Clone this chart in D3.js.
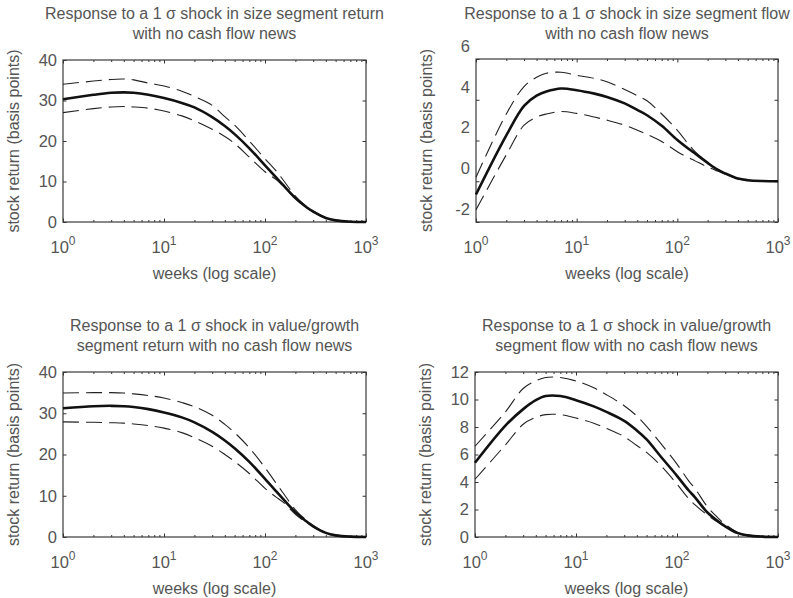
<!DOCTYPE html>
<html>
<head>
<meta charset="utf-8">
<script src="https://cdn.jsdelivr.net/npm/d3@7"></script>
<style>
  body { margin: 0; background: #fff; }
  text { font-family: "Liberation Sans", Arial, sans-serif; fill: #555; }
</style>
</head>
<body>
<svg id="chart" width="793" height="598"></svg>
<script>
// Horizon in weeks (log axis)
const weeks = [1, 2, 3, 4, 5, 7, 10, 15, 20, 30, 40, 50, 70, 100, 130, 150, 200, 250, 300, 400, 500, 700, 1000];

// Size segment return shock
const sizeRetMean  = [30.3, 31.4, 31.9, 32.0, 31.9, 31.4, 30.6, 29.4, 28.3, 25.9, 23.7, 21.7, 18.2, 14.0, 10.9, 9.2, 5.9, 3.9, 2.55, 1.0, 0.4, 0.08, 0];
const sizeRetUpper = [34.0, 34.8, 35.2, 35.3, 35.1, 34.3, 33.6, 32.3, 31.0, 28.8, 26.0, 23.9, 20.0, 15.6, 12.5, 10.5, 6.4, 4.1, 2.7, 1.0, 0.45, 0.08, 0];
const sizeRetLower = [27.0, 28.0, 28.4, 28.5, 28.4, 28.1, 27.4, 26.2, 25.0, 22.9, 21.1, 19.4, 16.0, 12.4, 10.4, 9.0, 5.8, 3.8, 2.5, 0.95, 0.4, 0.08, 0];

// Size segment flow shock
const sizeFlowMean  = [-0.65, 2.25, 3.7, 4.2, 4.4, 4.55, 4.47, 4.3, 4.14, 3.82, 3.5, 3.24, 2.72, 2.02, 1.58, 1.36, 0.9, 0.57, 0.38, 0.13, 0.05, 0.01, 0];
const sizeFlowUpper = [0.2, 3.3, 4.65, 5.1, 5.3, 5.35, 5.2, 5.05, 4.88, 4.5, 4.2, 3.95, 3.3, 2.5, 1.8, 1.45, 0.92, 0.6, 0.4, 0.13, 0.05, 0.01, 0];
const sizeFlowLower = [-1.4, 1.3, 2.75, 3.15, 3.3, 3.42, 3.33, 3.15, 3.0, 2.75, 2.5, 2.3, 1.95, 1.45, 1.15, 1.0, 0.7, 0.5, 0.35, 0.11, 0.05, 0.01, 0];

// Value/growth segment return shock
const vgRetMean  = [31.2, 31.7, 31.8, 31.7, 31.5, 31.0, 30.2, 29.0, 27.8, 25.5, 23.4, 21.5, 18.2, 14.1, 11.0, 9.3, 6.0, 4.0, 2.6, 1.0, 0.4, 0.08, 0];
const vgRetUpper = [34.9, 35.0, 35.0, 34.9, 34.7, 34.3, 33.7, 32.6, 31.6, 29.5, 27.3, 25.3, 21.6, 16.8, 12.9, 10.8, 6.6, 4.3, 2.8, 1.0, 0.45, 0.08, 0];
const vgRetLower = [27.9, 27.8, 27.7, 27.6, 27.4, 27.0, 26.4, 25.3, 24.1, 22.0, 20.0, 18.3, 15.4, 11.8, 9.6, 8.5, 5.5, 3.7, 2.45, 0.95, 0.4, 0.08, 0];

// Value/growth segment flow shock
const vgFlowMean  = [5.4, 8.1, 9.3, 9.95, 10.25, 10.25, 9.95, 9.5, 9.1, 8.45, 7.75, 7.1, 5.8, 4.45, 3.4, 2.9, 1.78, 1.2, 0.78, 0.28, 0.12, 0.03, 0];
const vgFlowUpper = [6.6, 9.1, 10.8, 11.35, 11.6, 11.6, 11.35, 10.85, 10.35, 9.55, 8.8, 8.05, 6.75, 5.3, 4.1, 3.55, 2.2, 1.45, 0.92, 0.33, 0.13, 0.03, 0];
const vgFlowLower = [4.2, 6.7, 8.2, 8.7, 8.9, 8.9, 8.65, 8.28, 7.9, 7.3, 6.65, 6.15, 5.15, 3.85, 2.8, 2.35, 1.6, 1.1, 0.72, 0.27, 0.1, 0.02, 0];

const xMajor = [1, 10, 100, 1000];
const xLabel = 'weeks (log scale)';
const yLabel = 'stock return (basis points)';

const panels = [
  { title: ['Response to a 1 \u03c3 shock in size segment return', 'with no cash flow news'],
    box: [63, 60, 366, 222], yDomain: [0, 40], yTicks: [0, 10, 20, 30, 40], labelShift: 0,
    mean: sizeRetMean, upper: sizeRetUpper, lower: sizeRetLower, titleY: 19 },
  { title: ['Response to a 1 \u03c3 shock in size segment flow', 'with no cash flow news'],
    box: [476, 59, 778, 222], yDomain: [-2, 6], yTicks: [-2, 0, 2, 4, 6], labelShift: -13,
    mean: sizeFlowMean, upper: sizeFlowUpper, lower: sizeFlowLower, titleY: 19 },
  { title: ['Response to a 1 \u03c3 shock in value/growth', 'segment return with no cash flow news'],
    box: [63, 372, 366, 537], yDomain: [0, 40], yTicks: [0, 10, 20, 30, 40], labelShift: 0,
    mean: vgRetMean, upper: vgRetUpper, lower: vgRetLower, titleY: 331 },
  { title: ['Response to a 1 \u03c3 shock in value/growth', 'segment flow with no cash flow news'],
    box: [475, 372, 778, 537], yDomain: [0, 12], yTicks: [0, 2, 4, 6, 8, 10, 12], labelShift: 0,
    mean: vgFlowMean, upper: vgFlowUpper, lower: vgFlowLower, titleY: 331 }
];

const svg = d3.select('#chart');

panels.forEach(p => {
  const [x0, y0, x1, y1] = p.box;
  const x = d3.scaleLog().domain([1, 1000]).range([x0, x1]);
  const y = d3.scaleLinear().domain(p.yDomain).range([y1, y0]);
  const g = svg.append('g');
  const minor = x.ticks().filter(t => !xMajor.includes(t));

  // minor + major x ticks, bottom and top, pointing inward
  [[d3.axisBottom, y1], [d3.axisTop, y0]].forEach(([ax, yy]) => {
    g.append('g').attr('transform', `translate(0,${yy})`)
      .call(ax(x).tickValues(minor).tickSize(-2).tickFormat(''))
      .call(s => s.select('.domain').remove());
    g.append('g').attr('transform', `translate(0,${yy})`)
      .call(ax(x).tickValues(xMajor).tickSize(-3.5).tickFormat(''))
      .call(s => s.select('.domain').remove());
  });
  // y ticks left and right
  g.append('g').attr('transform', `translate(${x0},0)`)
    .call(d3.axisLeft(y).tickValues(p.yTicks).tickSize(-3.5).tickFormat(''))
    .call(s => s.select('.domain').remove());
  g.append('g').attr('transform', `translate(${x1},0)`)
    .call(d3.axisRight(y).tickValues(p.yTicks).tickSize(-3.5).tickFormat(''))
    .call(s => s.select('.domain').remove());
  g.selectAll('.tick line').attr('stroke', '#333').attr('stroke-width', 1);

  // box
  g.append('rect').attr('x', x0).attr('y', y0)
    .attr('width', x1 - x0).attr('height', y1 - y0)
    .attr('fill', 'none').attr('stroke', '#3a3a3a').attr('stroke-width', 1.2);

  // y tick labels
  g.selectAll('.ylab').data(p.yTicks).enter().append('text')
    .attr('x', x0 - 6).attr('y', d => y(d) + p.labelShift)
    .attr('dy', '0.36em').attr('text-anchor', 'end')
    .style('font-size', '16.5px').text(d => d);

  // x tick labels 10^n
  const xl = g.selectAll('.xlab').data(xMajor).enter().append('text')
    .attr('x', d => x(d)).attr('y', y1 + 31)
    .attr('text-anchor', 'middle').style('font-size', '16.5px');
  xl.append('tspan').text('10');
  xl.append('tspan').attr('dy', -8).style('font-size', '12px').text(d => Math.round(Math.log10(d)));

  // axis titles
  g.append('text').attr('x', (x0 + x1) / 2).attr('y', y1 + 57)
    .attr('text-anchor', 'middle').style('font-size', '16px').text(xLabel);
  g.append('text')
    .attr('transform', `translate(${x0 - 44},${(y0 + y1) / 2}) rotate(-90)`)
    .attr('text-anchor', 'middle').style('font-size', '16px').text(yLabel);

  // panel title
  p.title.forEach((t, i) => {
    g.append('text').attr('x', (x0 + x1) / 2).attr('y', p.titleY + i * 19.5)
      .attr('text-anchor', 'middle').style('font-size', '16px').text(t);
  });

  // lines
  const line = d3.line().x(d => x(d[0])).y(d => y(d[1])).curve(d3.curveCatmullRom.alpha(0.5));
  const pts = arr => weeks.map((w, i) => [w, arr[i]]);
  [p.upper, p.lower].forEach(arr => {
    g.append('path').attr('d', line(pts(arr)))
      .attr('fill', 'none').attr('stroke', '#222').attr('stroke-width', 1.1)
      .attr('stroke-dasharray', '16,7');
  });
  g.append('path').attr('d', line(pts(p.mean)))
    .attr('fill', 'none').attr('stroke', '#111').attr('stroke-width', 2.6);
});
</script>
</body>
</html>
